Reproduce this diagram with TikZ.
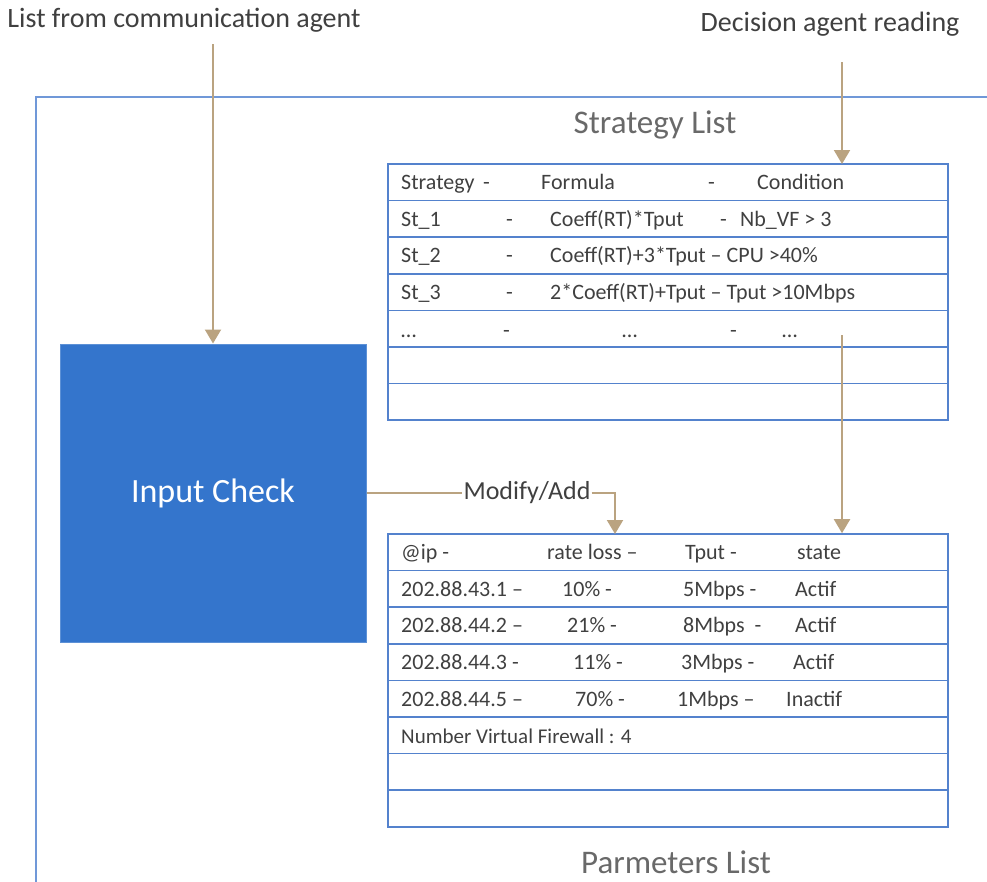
\documentclass[tikz,border=0pt]{standalone}
\usepackage{fontspec}
\setmainfont{Carlito}
\usepackage{tikz}
\usetikzlibrary{arrows.meta, positioning, calc}
\usepackage{xcolor}
\definecolor{tanc}{RGB}{186,163,128}
\definecolor{tblblue}{RGB}{84,130,205}
\definecolor{frameblue}{RGB}{112,152,216}
\definecolor{boxblue}{RGB}{52,117,204}
\definecolor{txtgray}{RGB}{64,64,64}
\definecolor{ttlgray}{RGB}{105,105,105}
\newcommand{\celltxt}{\fontsize{22}{24}\selectfont}
\newcommand{\toptxt}{\fontsize{28}{30}\selectfont}
\newcommand{\ttltxt}{\fontsize{33}{35}\selectfont}
\tikzset{
  tanline/.style={draw=tanc, line width=2pt},
  arrow/.style={-{Triangle[width=16pt,length=14pt]}, tanline},
  rowbox/.style={
    rectangle, draw=tblblue, line width=1.6pt, inner sep=0pt,
    minimum width=560pt, minimum height=36.6pt
  },
  cell/.style={anchor=base west, inner sep=0pt, font=\celltxt, text=txtgray},
  ttl/.style={font=\ttltxt, text=ttlgray, inner sep=0pt},
  toplbl/.style={font=\toptxt, text=txtgray, inner sep=0pt},
  checkbox/.style={
    rectangle, draw=boxblue!80!white, fill=boxblue, line width=1pt,
    minimum width=306pt, minimum height=298pt,
    font=\fontsize{34}{36}\selectfont, text=white
  }
}

\begin{document}
\begin{tikzpicture}[x=1pt, y=-1pt]
  \useasboundingbox (0,0) rectangle (987,881);
  % outer frame, runs past the page on the right and bottom
  \draw[frameblue, line width=1.6pt] (36,97) rectangle (1010,900);

  \node[toplbl] (commsrc) at (184,20) {List from communication agent};
  \node[toplbl] (decsrc) at (830,24) {Decision agent reading};
  \node[ttl] (sttl) at (655,125) {Strategy List};
  \node[ttl] (pttl) at (676,862) {Parmeters List};

  \node[checkbox] (check) at (213,493) {Input Check};

  % strategy table
  \foreach \r in {1,...,7}
    \node[rowbox] (st\r) at (668,{164+36.6*(\r-0.5)}) {};
  \foreach \x/\t [count=\c] in {401/Strategy, 483/-, 541/Formula,
      708/-, 757/Condition}
    \node[cell] (sa\c) at (\x,189) {\t};
  \foreach \x/\t [count=\c] in {401/St\_1, 506/-, 550/Coeff(RT)*Tput,
      720/-, 740/Nb\_VF > 3}
    \node[cell] (sb\c) at (\x,226) {\t};
  \foreach \x/\t [count=\c] in {401/St\_2, 506/-,
      550/Coeff(RT)+3*Tput – CPU >40\%}
    \node[cell] (sc\c) at (\x,262.5) {\t};
  \foreach \x/\t [count=\c] in {401/St\_3, 506/-,
      550/2*Coeff(RT)+Tput – Tput >10Mbps}
    \node[cell] (sd\c) at (\x,299) {\t};
  \foreach \x/\t [count=\c] in {401/\ldots, 503/-, 622/\ldots, 730/-, 782/\ldots}
    \node[cell] (se\c) at (\x,337) {\t};

  % parameters table
  \foreach \r in {1,...,8}
    \node[rowbox] (pm\r) at (668,{534+36.6*(\r-0.5)}) {};
  \foreach \x/\t [count=\c] in {401/@ip -, 547/rate loss –, 685/Tput -,
      797/state}
    \node[cell] (pa\c) at (\x,559) {\t};
  \foreach \x/\t [count=\c] in {401/202.88.43.1 –, 562/10\% -,
      683/5Mbps -, 795/Actif}
    \node[cell] (pb\c) at (\x,596) {\t};
  \foreach \x/\t [count=\c] in {401/202.88.44.2 –, 567/21\% -,
      683/8Mbps\ \ -, 795/Actif}
    \node[cell] (pc\c) at (\x,632.5) {\t};
  \foreach \x/\t [count=\c] in {401/202.88.44.3 -, 573/11\% -,
      681/3Mbps -, 793/Actif}
    \node[cell] (pd\c) at (\x,669) {\t};
  \foreach \x/\t [count=\c] in {401/202.88.44.5 –, 575/70\% -,
      677/1Mbps –, 786/Inactif}
    \node[cell] (pe\c) at (\x,706) {\t};
  \node[cell, font=\fontsize{21}{23}\selectfont] (pf1) at (401,743)
    {Number Virtual Firewall : 4};

  % connectors
  \coordinate (decin) at (842,164);
  \coordinate (modin) at (615,534);
  \coordinate (stout) at (842,335);
  \node[font=\fontsize{26}{28}\selectfont, text=txtgray, inner sep=1pt]
    (modlbl) at (527,493) {Modify/Add};
  \draw[arrow, shorten <=12pt] (check.north |- commsrc.south) -- (check.north);
  \draw[arrow, shorten <=26pt] (decin |- decsrc.south) -- (decin);
  \draw[tanline] (check.east) -- (modlbl.west);
  \draw[arrow] (modlbl.east) -| (modin);
  \draw[arrow] (stout) -- (stout |- pm1.north);
\end{tikzpicture}
\end{document}
